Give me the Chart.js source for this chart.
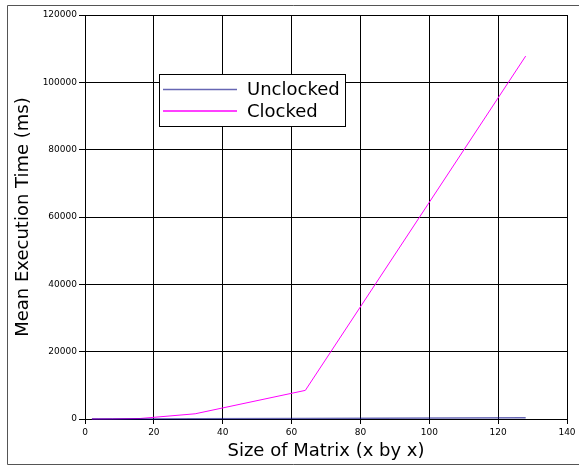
<!DOCTYPE html>
<html>
<head>
<meta charset="utf-8">
<script src="https://cdn.jsdelivr.net/npm/chart.js@4"></script>
<style>
  html, body { margin: 0; padding: 0; background: #fff; }
  #box { width: 579px; height: 466px; }
</style>
</head>
<body>
<div id="box"><canvas id="tiempoChart" width="579" height="466"></canvas></div>
<script>
// datos
const tamanos = [2, 4, 8, 16, 32, 64, 128];
const sinReloj = [1, 3, 8, 20, 60, 160, 400];
const conReloj = [5, 15, 40, 150, 1550, 8500, 107800];
const ticksX = [0, 20, 40, 60, 80, 100, 120, 140];
const ticksY = [0, 20000, 40000, 60000, 80000, 100000, 120000];

const canvas = document.getElementById("tiempoChart");
const fuente = "'DejaVu Sans', sans-serif";

function puntos(valores) {
  return tamanos.map((t, i) => ({ x: t, y: valores[i] }));
}

// leyenda dentro del area del grafico + marco exterior
const leyendaPlugin = {
  id: 'leyendaDentro',
  afterDraw(chart) {
    const ctx = chart.ctx;
    ctx.save();
    // marco
    ctx.strokeStyle = '#555';
    ctx.lineWidth = 1;
    ctx.beginPath();
    ctx.moveTo(579, 5.5);
    ctx.lineTo(7.5, 5.5);
    ctx.lineTo(7.5, 464.5);
    ctx.lineTo(579, 464.5);
    ctx.stroke();

    // caja de leyenda
    const bx = 159.5, by = 74.5, bw = 186, bh = 52;
    ctx.fillStyle = '#fff';
    ctx.fillRect(bx, by, bw, bh);
    ctx.strokeStyle = '#000';
    ctx.strokeRect(bx, by, bw, bh);
    ctx.font = '18px ' + fuente;
    ctx.textBaseline = 'middle';
    ctx.textAlign = 'left';
    chart.data.datasets.forEach((ds, i) => {
      const y = 89.5 + i * 21.5;
      ctx.strokeStyle = ds.borderColor;
      ctx.lineWidth = 1.5;
      ctx.beginPath();
      ctx.moveTo(163, y);
      ctx.lineTo(237, y);
      ctx.stroke();
      ctx.fillStyle = '#000';
      ctx.fillText(ds.label, 247, y + 1);
    });
    ctx.restore();
  }
};

new Chart(canvas, {
  type: 'line',
  data: {
    datasets: [
      {
        label: 'Unclocked',
        data: puntos(sinReloj),
        borderColor: 'rgba(0, 0, 128, 0.6)',
        borderWidth: 1.5,
        pointRadius: 0,
        tension: 0,
        clip: false
      },
      {
        label: 'Clocked',
        data: puntos(conReloj),
        borderColor: '#ff00ff',
        borderWidth: 1,
        pointRadius: 0,
        tension: 0,
        clip: false
      }
    ]
  },
  options: {
    responsive: false,
    animation: false,
    layout: { padding: { top: 15, right: 12, left: 0, bottom: 0 } },
    plugins: {
      legend: { display: false },
      tooltip: { enabled: false }
    },
    scales: {
      x: {
        type: 'linear',
        min: 0,
        max: 140,
        afterBuildTicks: s => { s.ticks = ticksX.map(v => ({ value: v })); },
        afterFit: s => { s.height = 47; },
        grid: { color: '#000', lineWidth: 1, tickLength: 5, tickColor: '#000' },
        border: { color: '#000', width: 1 },
        ticks: { color: '#000', font: { family: fuente, size: 9 }, padding: 3, maxRotation: 0 },
        title: {
          display: true,
          text: 'Size of Matrix (x by x)',
          color: '#000',
          font: { family: fuente, size: 18 },
          padding: { top: 4, bottom: 4 }
        }
      },
      y: {
        type: 'linear',
        min: 0,
        max: 120000,
        afterBuildTicks: s => { s.ticks = ticksY.map(v => ({ value: v })); },
        afterFit: s => { s.width = 85; },
        grid: { color: '#000', lineWidth: 1, tickLength: 6, tickColor: '#000' },
        border: { color: '#000', width: 1 },
        ticks: {
          color: '#000',
          font: { family: fuente, size: 9 },
          padding: 2,
          callback: v => String(v)
        },
        title: {
          display: true,
          text: 'Mean Execution Time (ms)',
          color: '#000',
          font: { family: fuente, size: 18 },
          padding: { top: 13, bottom: 4 }
        }
      }
    }
  },
  plugins: [leyendaPlugin]
});
</script>
</body>
</html>
